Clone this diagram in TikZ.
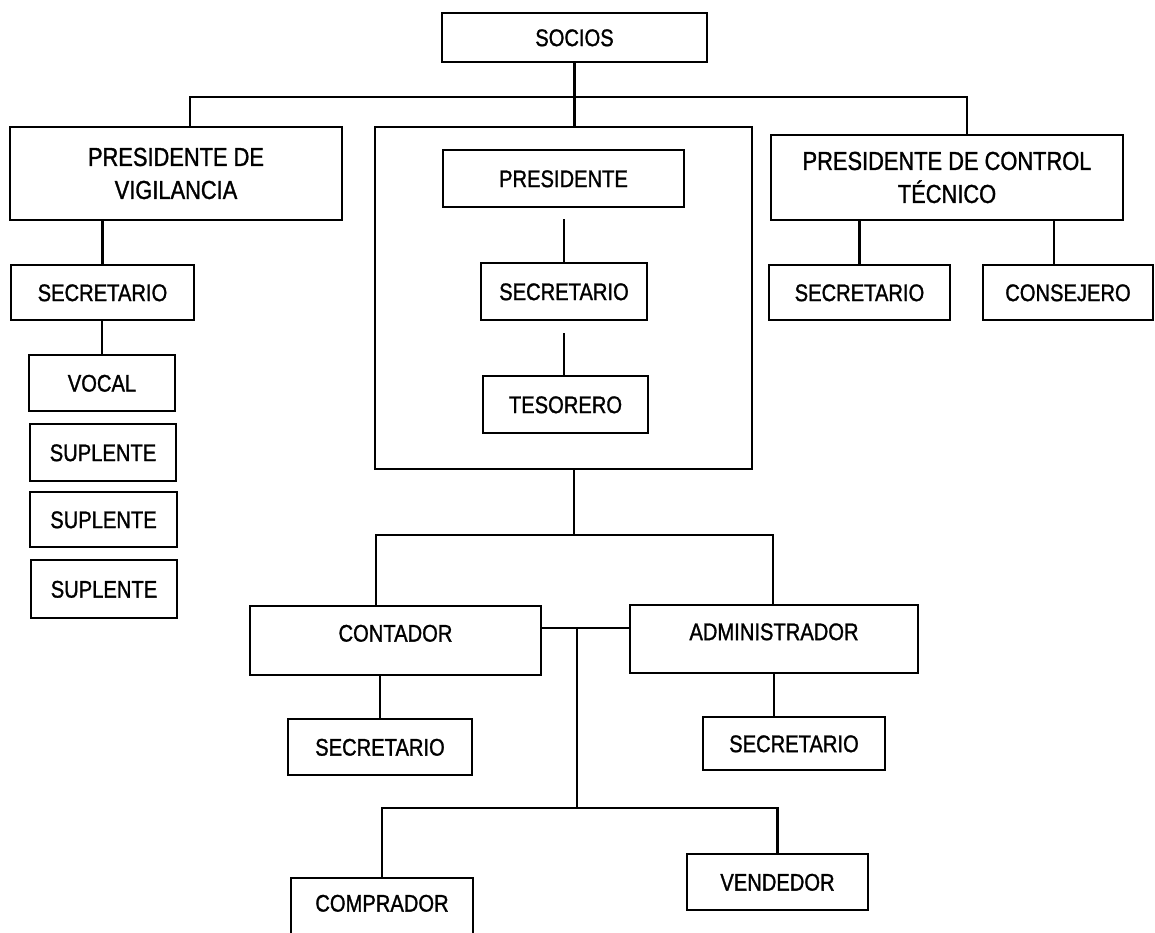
\documentclass[tikz,border=0pt]{standalone}
\usepackage{fontspec}
\setmainfont{Liberation Sans}[FakeStretch=0.84,FakeBold=1.2]
\usetikzlibrary{calc}
% box given by its corners: [style] name x1 y1 x2 y2 text
\newcommand{\orgbox}[7][]{%
  \node[box,#1,minimum width={#5-#3},minimum height={#6-#4}] (#2)
    at ({(#3+#5)/2},{(#4+#6)/2}) {#7};}
\begin{document}
\begin{tikzpicture}[x=1pt,y=-1pt,
  box/.style={draw, line width=2.2pt, inner sep=0pt,
    font=\fontsize{24}{28}\selectfont, text height=17.2pt, text depth=0pt},
  twoline/.style={align=center, text height=, text depth=,
    font=\fontsize{26}{33}\selectfont},
  raised/.style={text depth=15pt},
  link/.style={draw, line width=2.2pt},
]
\useasboundingbox (0,0) rectangle (1155,933);
\clip (0,0) rectangle (1155,933);

% top level
\orgbox{socios}{442}{13}{707}{62}{SOCIOS}

% vigilance branch
\orgbox[twoline]{pv}{10}{127}{342}{220}{PRESIDENTE DE\\VIGILANCIA}
\orgbox{sv}{11}{265}{194}{320}{SECRETARIO}
\orgbox{vocal}{29}{355}{175}{411}{VOCAL}
\orgbox{supa}{30}{424}{176}{481}{SUPLENTE}
\orgbox{supb}{30}{492}{177}{547}{SUPLENTE}
\orgbox{supc}{31}{560}{177}{618}{SUPLENTE}

% board of directors
\orgbox{mesa}{375}{127}{752}{469}{}
\orgbox{pres}{443}{150}{684}{207}{PRESIDENTE}
\orgbox{sm}{481}{263}{647}{320}{SECRETARIO}
\orgbox{tes}{483}{376}{648}{433}{TESORERO}

% technical control branch
\orgbox[twoline]{pct}{771}{135}{1123}{220}{PRESIDENTE DE CONTROL\\TÉCNICO}
\orgbox{sc}{769}{265}{950}{320}{SECRETARIO}
\orgbox{cons}{983}{265}{1153}{320}{CONSEJERO}

% operations
\orgbox[raised]{cont}{250}{606}{541}{675}{CONTADOR}
\orgbox[raised]{adm}{630}{605}{918}{673}{ADMINISTRADOR}
\orgbox{scont}{288}{719}{472}{775}{SECRETARIO}
\orgbox{sadm}{703}{717}{885}{770}{SECRETARIO}
\orgbox[text depth=30pt]{comp}{291}{878}{473}{958}{COMPRADOR}
\orgbox{vend}{687}{854}{868}{910}{VENDEDOR}

% connectors
\coordinate (busL) at (190,97);
\coordinate (busR) at (967,97);
\path[link] (socios.south) -- (socios.south |- mesa.north);
\path[link] (pv.north -| busL) -- (busL) -- (busR) -- (pct.north -| busR);
\path[link] (pv.south -| sv.north) -- (sv.north);
\path[link] (vocal.north |- sv.south) -- (vocal.north);
\path[link] ($(pres.south -| sm.north)+(0,11)$) -- (sm.north);
\path[link] ($(sm.south)+(0,12)$) -- (sm.south |- tes.north);

\coordinate (consdrop) at (1054,240);
\path[link] (pct.south -| sc.north) -- (sc.north);
\path[link] (consdrop |- pct.south) -- (consdrop |- cons.north);

\coordinate (midbus) at (574,535);
\coordinate (busCL) at (376,535);
\coordinate (busCR) at (773,535);
\path[link] (mesa.south -| midbus) -- (midbus);
\path[link] (cont.north -| busCL) -- (busCL) -- (busCR) -- (adm.north -| busCR);

\coordinate (hub) at (577,628);
\coordinate (lowbus) at (577,808);
\path[link] (cont.east |- hub) -- (adm.west |- hub);
\path[link] (hub) -- (lowbus);
\path[link] (comp.north) -- (comp.north |- lowbus) -- (vend.north |- lowbus) -- (vend.north);
\path[link] (scont.north |- cont.south) -- (scont.north);
\path[link] (adm.south) -- (adm.south |- sadm.north);
\end{tikzpicture}
\end{document}
